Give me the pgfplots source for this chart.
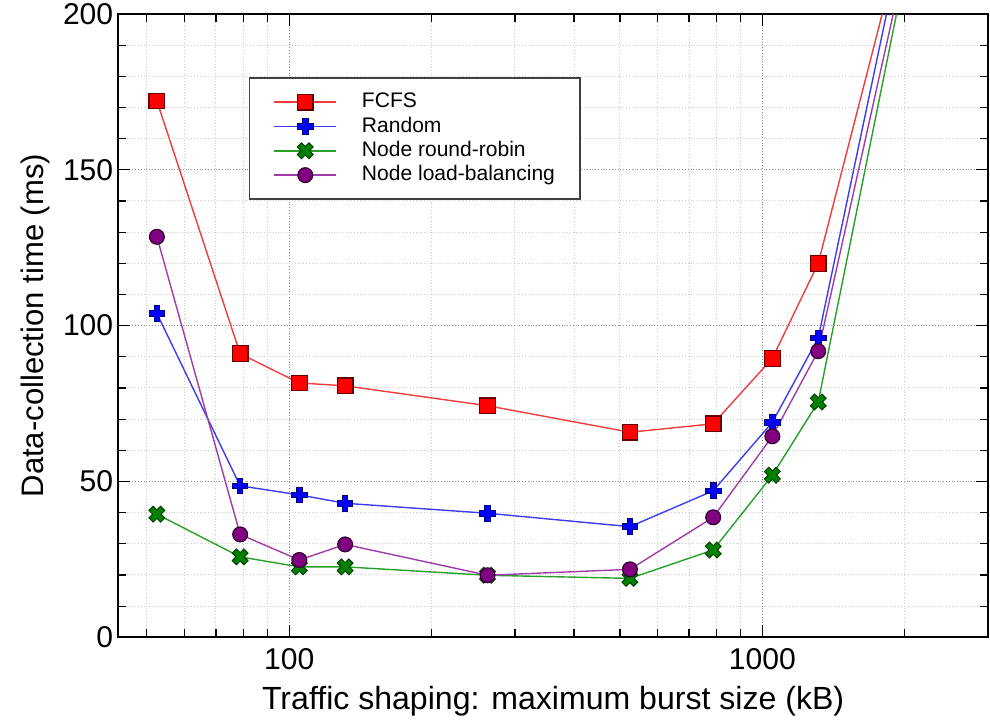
\documentclass[border=0pt]{standalone}
\usepackage{fontspec}
\setmainfont{Liberation Sans}
\usepackage{pgfplots}
\pgfplotsset{compat=1.18}
\usetikzlibrary{calc}

\definecolor{lred}{RGB}{240,60,60}
\definecolor{lblue}{RGB}{60,60,240}
\definecolor{lgreen}{RGB}{40,160,40}
\definecolor{lpurple}{RGB}{160,60,170}
\definecolor{mpurple}{RGB}{128,0,128}
\definecolor{mgreen}{RGB}{0,130,0}

% thick plus, used for Random (and rotated for round-robin)
\pgfdeclareplotmark{fatplus}{%
  \pgfpathmoveto{\pgfqpoint{-0.36\pgfplotmarksize}{\pgfplotmarksize}}%
  \pgfpathlineto{\pgfqpoint{0.36\pgfplotmarksize}{\pgfplotmarksize}}%
  \pgfpathlineto{\pgfqpoint{0.36\pgfplotmarksize}{0.36\pgfplotmarksize}}%
  \pgfpathlineto{\pgfqpoint{\pgfplotmarksize}{0.36\pgfplotmarksize}}%
  \pgfpathlineto{\pgfqpoint{\pgfplotmarksize}{-0.36\pgfplotmarksize}}%
  \pgfpathlineto{\pgfqpoint{0.36\pgfplotmarksize}{-0.36\pgfplotmarksize}}%
  \pgfpathlineto{\pgfqpoint{0.36\pgfplotmarksize}{-\pgfplotmarksize}}%
  \pgfpathlineto{\pgfqpoint{-0.36\pgfplotmarksize}{-\pgfplotmarksize}}%
  \pgfpathlineto{\pgfqpoint{-0.36\pgfplotmarksize}{-0.36\pgfplotmarksize}}%
  \pgfpathlineto{\pgfqpoint{-\pgfplotmarksize}{-0.36\pgfplotmarksize}}%
  \pgfpathlineto{\pgfqpoint{-\pgfplotmarksize}{0.36\pgfplotmarksize}}%
  \pgfpathlineto{\pgfqpoint{-0.36\pgfplotmarksize}{0.36\pgfplotmarksize}}%
  \pgfpathclose\pgfusepathqfillstroke}
\pgfdeclareplotmark{fatx}{%
  \pgftransformrotate{45}%
  \pgfuseplotmark{fatplus}}

\begin{document}
\begin{tikzpicture}
\begin{axis}[
  scale only axis, width=434pt, height=311pt,
  xmode=log, xmin=43.5, xmax=3000, ymin=0, ymax=200,
  xtick={100,1000}, xticklabels={100,1000},
  minor xtick={50,60,70,80,90,200,300,400,500,600,700,800,900,2000,3000},
  ytick={0,50,100,150,200}, minor y tick num=4,
  tick align=inside, major tick length=6pt, minor tick length=4pt,
  tick style={black, line width=0.6pt},
  grid=both,
  major grid style={densely dotted, black!45, line width=0.6pt},
  minor grid style={densely dotted, black!20, line width=0.5pt},
  axis line style={black, line width=0.9pt},
  /pgf/number format/assume math mode=true,
  tick label style={font=\fontsize{15}{18}\selectfont},
  xticklabel style={yshift=-2pt},
  yticklabel style={xshift=1pt},
  xlabel={Traffic shaping: maximum burst size (kB)},
  ylabel={Data-collection time (ms)},
  xlabel style={font=\fontsize{16}{19}\selectfont, at={(axis description cs:0.5,-0.103)}, anchor=center},
  ylabel style={font=\fontsize{15.5}{18}\selectfont, at={(axis description cs:-0.0956,0.5)}, anchor=center},
  legend style={at={(0.1498,0.8987)}, anchor=north west, draw=black!75, line width=0.9pt,
    fill=white, font=\fontsize{10.5}{12}\selectfont, inner xsep=12pt, inner ysep=6pt,
    row sep=0.15pt,
    nodes={inner xsep=0.5pt, inner ysep=1pt, text height=7.8pt, text depth=2.2pt}},
  legend cell align=left,
  legend image code/.code={\draw[mark repeat=2,mark phase=2]
    plot coordinates {(0pt,0pt) (15.5pt,0pt) (31pt,0pt)};
    \path[draw=none] (0pt,0pt) -- (43.3pt,0pt);},
  clip=true,
]
\addplot[lred, line width=0.7pt, mark=square*, mark size=3.9pt,
  mark options={solid, fill=red, draw=red!40!black, line width=0.6pt}]
  coordinates {(52.5,172.1) (78.75,91.0) (105,81.6) (131.25,80.7) (262.5,74.3)
    (525,65.8) (787.5,68.5) (1050,89.5) (1312.5,120.0) (2100,240.6)};
\addlegendentry{FCFS}
\addplot[lblue, line width=0.7pt, mark=fatplus, mark size=3.9pt,
  mark options={solid, fill=blue, draw=blue!50!black, line width=0.5pt}]
  coordinates {(52.5,103.9) (78.75,48.6) (105,45.7) (131.25,43.0) (262.5,39.8)
    (525,35.5) (787.5,47.0) (1050,69.0) (1312.5,96.0) (2100,243.0)};
\addlegendentry{Random}
\addplot[lgreen, line width=0.7pt, mark=fatx, mark size=4.1pt,
  mark options={solid, fill=mgreen, draw=green!25!black, line width=0.5pt}]
  coordinates {(52.5,39.5) (78.75,25.8) (105,22.6) (131.25,22.6) (262.5,19.9)
    (525,18.9) (787.5,28.0) (1050,52.0) (1312.5,75.5) (2100,229.0)};
\addlegendentry{Node round-robin}
\addplot[lpurple, line width=0.7pt, mark=*, mark size=3.7pt,
  mark options={solid, fill=mpurple, draw=mpurple!40!black, line width=0.6pt}]
  coordinates {(52.5,128.5) (78.75,33.0) (105,24.8) (131.25,29.8) (262.5,19.9)
    (525,21.8) (787.5,38.5) (1050,64.5) (1312.5,91.8) (2100,231.0)};
\addlegendentry{Node load-balancing}
\end{axis}
\pgfresetboundingbox
\path ($(current axis.south west)+(-59pt,-42.2pt)$) rectangle ($(current axis.north east)+(1pt,7pt)$);
\end{tikzpicture}
\end{document}
